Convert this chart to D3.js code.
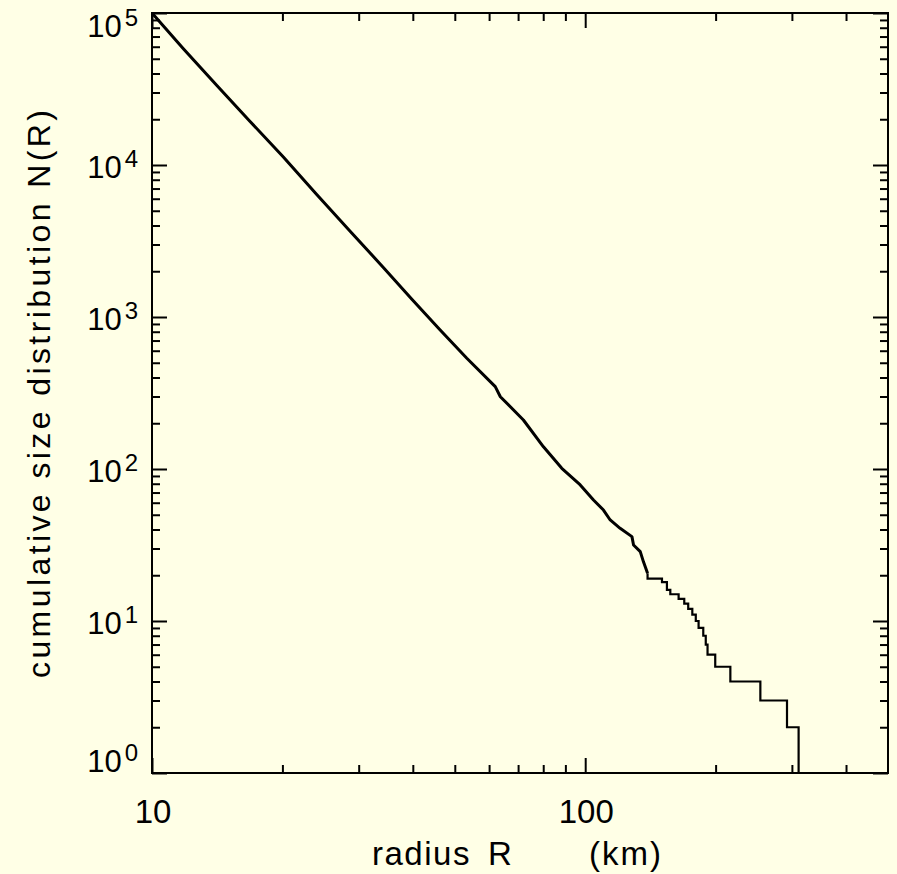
<!DOCTYPE html>
<html>
<head>
<meta charset="utf-8">
<script src="https://cdn.jsdelivr.net/npm/d3@7"></script>
<style>
  html, body { margin: 0; padding: 0; background: #ffffe6; }
  svg { display: block; }
  text { font-family: "Liberation Sans", Arial, sans-serif; fill: #000; }
</style>
</head>
<body>
<svg id="chart" width="897" height="874"></svg>
<script>
// power-law part of the curve (radius in km, cumulative count)
const smoothRadius = [10, 11.8, 14.1, 16.8, 20.1, 24.0, 28.7, 34.2, 39.8, 46.2, 53.3, 62.0, 63.7,
  72.0, 80.1, 88.3, 97.4, 104.5, 110.2, 114.2, 120.4, 128.2, 129.3, 134.0, 136.3, 139.3];
const smoothCount = [100000, 58500, 33500, 19500, 11300, 6400, 3650, 2120, 1310, 825, 535, 348, 299,
  210, 140, 101, 78.5, 62.5, 53.7, 46.2, 40.7, 35.9, 31.6, 28.6, 24.5, 20.6];

// big-body tail: N keeps its value from this radius up to the next one
const tailRadius = [139.3, 150.4, 154.4, 157.2, 164.3, 169.3, 172.9, 176.7, 180.0, 182.7, 187.3,
  189.8, 191.6, 199.6, 216.3, 253.7, 292.3, 310.9, 372];
const tailCount = [19, 18, 16, 15, 14, 13, 12, 11, 10, 9, 8, 7, 6, 5, 4, 3, 2, 1, 1];

const xTickLabels = [10, 100];
const yTickExponents = [0, 1, 2, 3, 4, 5];

let svgWidth = 897,
  svgHeight = 874;
let margin = { top: 13, right: 9, bottom: 101, left: 152 };
let width = svgWidth - margin.left - margin.right,
  height = svgHeight - margin.top - margin.bottom;

const x = d3.scaleLog().domain([10, 500]).range([0, width]);
const y = d3.scaleLog().domain([1, 1e5]).range([height, 0]);

const svg = d3.select("#chart");
svg.append("rect").attr("width", svgWidth).attr("height", svgHeight).attr("fill", "#ffffe6");

const g = svg.append("g").attr("transform", "translate(" + margin.left + "," + margin.top + ")");

// ticks: majors on the decades, minors in between, drawn on all four sides pointing in
const isMajor = (v) => Math.abs(Math.log10(v) - Math.round(Math.log10(v))) < 1e-9;
const xMajor = x.ticks().filter(isMajor),
  xMinor = x.ticks().filter((v) => !isMajor(v) && v < 500);
const yMajor = y.ticks().filter(isMajor),
  yMinor = y.ticks().filter((v) => !isMajor(v));

function addAxis(axisFn, scale, values, size, transform) {
  g.append("g")
    .attr("transform", transform)
    .call(axisFn(scale).tickValues(values).tickSize(-size).tickFormat(""))
    .call((a) => a.select(".domain").remove())
    .call((a) => a.selectAll("line").attr("stroke", "#000").attr("stroke-width", 2));
}
[[xMajor, 15], [xMinor, 8]].forEach(([vals, s]) => {
  addAxis(d3.axisBottom, x, vals, s, "translate(0," + height + ")");
  addAxis(d3.axisTop, x, vals, s, "translate(0,0)");
});
[[yMajor, 15], [yMinor, 8]].forEach(([vals, s]) => {
  addAxis(d3.axisLeft, y, vals, s, "translate(0,0)");
  addAxis(d3.axisRight, y, vals, s, "translate(" + width + ",0)");
});

g.append("rect")
  .attr("width", width)
  .attr("height", height)
  .attr("fill", "none")
  .attr("stroke", "#000")
  .attr("stroke-width", 2);

// tick labels
g.selectAll(".xlab")
  .data(xTickLabels)
  .enter()
  .append("text")
  .attr("class", "xlab")
  .attr("x", (d) => x(d) + 1)
  .attr("y", height + 50)
  .attr("text-anchor", "middle")
  .attr("font-size", "33px")
  .text((d) => d);

const ylab = g.selectAll(".ylab")
  .data(yTickExponents)
  .enter()
  .append("text")
  .attr("class", "ylab")
  .attr("x", -14)
  .attr("y", (d) => y(Math.pow(10, d)) + (d === 0 ? -1 : d === 5 ? 24 : 13))
  .attr("text-anchor", "end")
  .attr("font-size", "31px");
ylab.append("tspan").text("10");
ylab.append("tspan").attr("dx", 3).attr("dy", -11).attr("font-size", "24px").text((d) => d);

// axis titles
const xt = svg.append("text").attr("y", 865).attr("font-size", "33px");
xt.append("tspan").attr("x", 372).attr("letter-spacing", "1.5px").text("radius");
xt.append("tspan").attr("x", 488).text("R");
xt.append("tspan").attr("x", 589).attr("letter-spacing", "2px").text("(km)");

svg.append("text")
  .attr("transform", "translate(50,394) rotate(-90)")
  .attr("text-anchor", "middle")
  .attr("font-size", "32px")
  .attr("textLength", 568)
  .attr("lengthAdjust", "spacing")
  .text("cumulative size distribution N(R)");

// the curve
const line = d3.line().x((d) => x(d[0])).y((d) => y(d[1]));
const smoothPts = smoothRadius.map((r, i) => [r, smoothCount[i]]);
const tailPts = tailRadius.map((r, i) => [r, tailCount[i]]);

g.append("path")
  .datum(smoothPts)
  .attr("fill", "none")
  .attr("stroke", "#000")
  .attr("stroke-width", 3)
  .attr("stroke-linejoin", "round")
  .attr("d", line);

g.append("path")
  .datum([smoothPts[smoothPts.length - 1]].concat(tailPts))
  .attr("fill", "none")
  .attr("stroke", "#000")
  .attr("stroke-width", 2.2)
  .attr("d", line.curve(d3.curveStepAfter));
</script>
</body>
</html>
